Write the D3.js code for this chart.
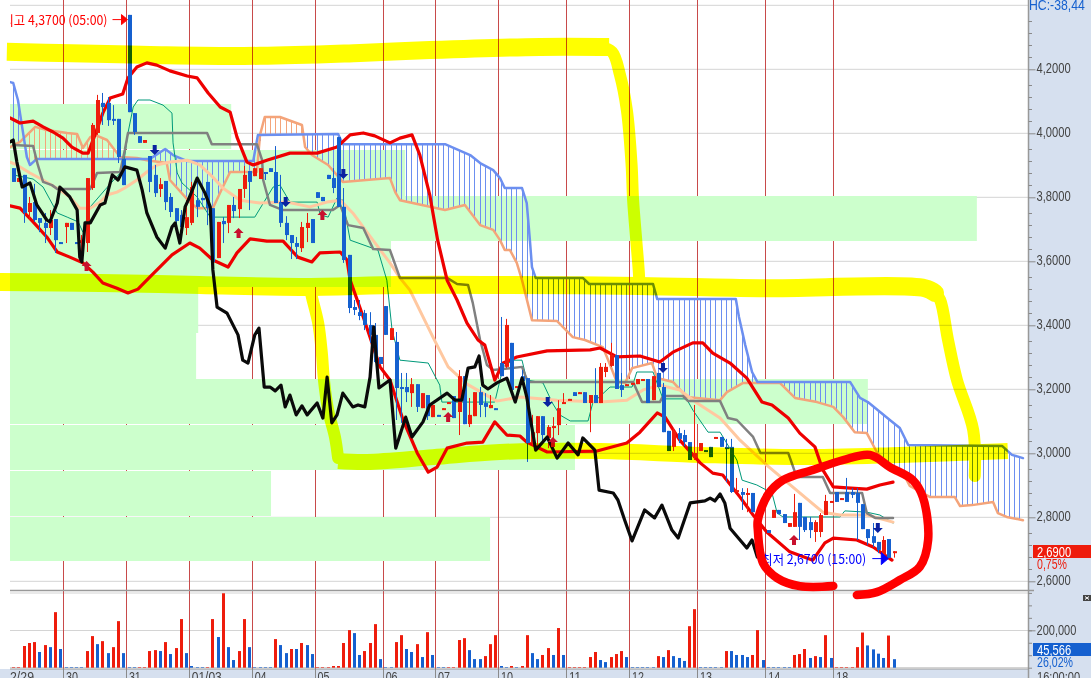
<!DOCTYPE html>
<html><head><meta charset="utf-8">
<script src="https://cdn.jsdelivr.net/npm/d3@7"></script>
<style>html,body{margin:0;padding:0;background:#fff;overflow:hidden}svg{display:block;isolation:isolate}</style>
</head><body><svg id="c" width="1091" height="678"></svg>
<script>
// ---------- data ----------
const sessionSlots=[0,10,22,34,46,58,71,81,93,106,118,131,144,157];
const sessionLabels=["2/29","30","31","01/03","04","05","06","07","10","11","12","13","14","18"];
const priceTicks=[4.4,4.2,4.0,3.8,3.6,3.4,3.2,3.0,2.8,2.6];
const priceLabels=[4.2,4.0,3.8,3.6,3.4,3.2,3.0,2.8,2.6];
const volTicks=[0,66667,133333,200000,266667,333333,400000];
// candles: slot, open, high, low, close
const candles=[[0,3.887,3.887,3.844,3.844],[1,3.844,3.856,3.844,3.856],[2,3.866,3.866,3.716,3.747],[3,3.750,3.797,3.725,3.778],[4,3.781,3.838,3.719,3.725],[5,3.731,3.731,3.687,3.716],[6,3.716,3.747,3.653,3.700],[7,3.700,3.756,3.678,3.725],[8,3.728,3.728,3.622,3.662],[9,3.656,3.656,3.650,3.650],
[10,3.703,3.716,3.653,3.716],[11,3.716,3.716,3.694,3.694],[12,3.656,3.656,3.650,3.650],[13,3.653,3.678,3.606,3.662],[14,3.653,3.856,3.625,3.856],[15,3.825,4.028,3.819,4.022],[16,3.997,4.116,3.991,4.100],[17,4.091,4.122,4.022,4.078],[18,4.091,4.109,4.019,4.037],[19,4.041,4.084,4.022,4.037],[20,4.041,4.041,3.903,3.922],[21,3.916,3.916,3.834,3.834],
[22,4.366,4.366,4.062,4.062],[23,4.059,4.059,3.991,4.000],[24,3.987,3.987,3.966,3.966],[25,3.966,3.975,3.966,3.975],[26,3.925,3.925,3.812,3.844],[27,3.866,3.897,3.797,3.809],[28,3.822,3.856,3.797,3.837],[29,3.847,3.847,3.756,3.781],[30,3.797,3.809,3.734,3.750],[31,3.762,3.762,3.694,3.722],[32,3.741,3.756,3.672,3.703],[33,3.700,3.787,3.678,3.734],
[34,3.716,3.844,3.709,3.828],[35,3.787,3.850,3.734,3.766],[36,3.794,3.794,3.787,3.787],[37,3.844,3.844,3.709,3.762],[38,3.762,3.762,3.559,3.594],[39,3.606,3.719,3.606,3.719],[40,3.722,3.734,3.653,3.712],[41,3.716,3.772,3.684,3.772],[42,3.772,3.797,3.731,3.753],[43,3.759,3.822,3.731,3.822],[44,3.822,3.894,3.794,3.866],[45,3.878,3.878,3.756,3.844],
[46,3.862,3.887,3.862,3.887],[47,3.853,3.887,3.853,3.887],[48,3.875,3.875,3.850,3.869],[49,3.887,3.887,3.875,3.875],[50,3.875,3.956,3.778,3.778],[51,3.781,3.866,3.703,3.716],[52,3.716,3.737,3.662,3.678],[53,3.678,3.678,3.603,3.653],[54,3.653,3.672,3.603,3.641],[55,3.637,3.719,3.625,3.703],[56,3.700,3.747,3.656,3.716],[57,3.728,3.728,3.653,3.653],
[58,3.812,3.812,3.794,3.794],[59,3.797,3.797,3.784,3.784],[60,3.866,3.866,3.853,3.853],[61,3.856,3.887,3.809,3.825],[62,3.984,3.984,3.766,3.766],[63,3.766,3.825,3.591,3.600],[64,3.616,3.616,3.434,3.450],[65,3.453,3.475,3.428,3.444],[66,3.437,3.475,3.412,3.425],[67,3.434,3.444,3.381,3.397],[68,3.397,3.437,3.341,3.366],[69,3.366,3.403,3.278,3.281],[70,3.297,3.297,3.275,3.275],
[71,3.456,3.456,3.366,3.366],[72,3.350,3.387,3.350,3.387],[73,3.344,3.375,3.100,3.200],[74,3.203,3.247,3.091,3.200],[75,3.203,3.247,3.156,3.187],[76,3.184,3.231,3.141,3.212],[77,3.212,3.212,3.125,3.141],[78,3.137,3.184,3.137,3.184],[79,3.178,3.178,3.100,3.112],[80,3.109,3.147,3.109,3.147],
[81,3.116,3.116,3.112,3.112],[82,3.134,3.137,3.134,3.137],[83,3.153,3.156,3.153,3.156],[84,3.175,3.175,3.106,3.106],[85,3.125,3.256,3.053,3.237],[86,3.237,3.237,3.087,3.087],[87,3.087,3.169,3.078,3.116],[88,3.112,3.187,3.112,3.187],[89,3.187,3.203,3.109,3.147],[90,3.153,3.184,3.109,3.141],[91,3.137,3.178,3.137,3.147],[92,3.137,3.137,3.134,3.134],
[93,3.278,3.422,3.237,3.237],[94,3.266,3.416,3.262,3.397],[95,3.341,3.341,3.194,3.194],[96,3.203,3.206,3.203,3.206],[97,3.237,3.256,3.222,3.222],[98,3.231,3.231,2.969,3.028],[99,3.028,3.116,3.022,3.062],[100,3.059,3.112,3.006,3.112],[101,3.112,3.112,3.031,3.053],[102,3.044,3.084,3.012,3.078],[103,3.075,3.109,3.037,3.081],[104,3.084,3.162,3.053,3.137],[105,3.153,3.184,3.153,3.156],
[106,3.163,3.166,3.163,3.166],[107,3.187,3.187,3.175,3.175],[108,3.184,3.187,3.184,3.187],[109,3.187,3.187,3.153,3.153],[110,3.153,3.178,3.062,3.178],[111,3.178,3.262,3.153,3.153],[112,3.153,3.278,3.153,3.266],[113,3.250,3.278,3.234,3.266],[114,3.269,3.341,3.266,3.303],[115,3.303,3.303,3.197,3.197],[116,3.209,3.247,3.172,3.194],[117,3.209,3.212,3.209,3.212],
[118,3.212,3.216,3.212,3.216],[119,3.212,3.228,3.212,3.228],[120,3.225,3.228,3.225,3.228],[121,3.228,3.228,3.153,3.153],[122,3.162,3.237,3.162,3.237],[123,3.247,3.247,3.203,3.203],[124,3.203,3.216,3.062,3.062],[125,3.066,3.066,3.003,3.003],[126,3.016,3.075,3.003,3.066],[127,3.059,3.075,3.028,3.041],[128,3.053,3.069,3.016,3.031],[129,3.031,3.031,2.975,2.975],[130,2.981,3.147,2.975,2.997],
[131,3.003,3.028,3.003,3.028],[132,3.006,3.006,3.003,3.003],[133,3.016,3.016,2.984,2.984],[134,3.044,3.047,3.044,3.047],[135,3.047,3.047,3.016,3.016],[136,3.016,3.041,2.906,3.009],[137,3.016,3.041,2.872,2.875],[138,2.875,2.919,2.875,2.881],[139,2.875,2.887,2.819,2.866],[140,2.866,2.887,2.812,2.872],[141,2.872,2.872,2.812,2.812],[142,2.812,2.812,2.806,2.806],
[144,2.756,2.756,2.747,2.747],[145,2.794,2.819,2.794,2.819],[146,2.819,2.819,2.806,2.806],[147,2.806,2.806,2.778,2.778],[148,2.766,2.778,2.766,2.778],[149,2.766,2.869,2.766,2.812],[150,2.841,2.841,2.725,2.766],[151,2.797,2.797,2.750,2.756],[152,2.781,2.797,2.731,2.756],[153,2.750,2.787,2.719,2.781],[154,2.750,2.809,2.734,2.803],[155,2.803,2.866,2.803,2.847],[156,2.844,2.847,2.844,2.847],
[157,2.875,2.875,2.844,2.844],[158,2.853,2.856,2.853,2.856],[159,2.875,2.919,2.844,2.844],[160,2.875,2.887,2.856,2.866],[161,2.872,2.887,2.725,2.841],[162,2.837,2.837,2.759,2.759],[163,2.759,2.759,2.709,2.731],[164,2.737,2.778,2.703,2.716],[165,2.719,2.719,2.684,2.694],[166,2.678,2.737,2.672,2.725],[167,2.728,2.728,2.669,2.669],[168,2.687,2.690,2.670,2.690]];
// volumes in thousands, one per slot; volumeUp: 1 red, 0 blue
const volumes=[3,3,116,132,137,84,121,110,297,100,3,3,3,3,89,169,126,142,78,110,249,78,3,3,3,3,89,94,89,137,73,105,260,78,9,3,3,3,260,164,398,110,41,89,260,110,3,3,3,3,153,121,78,100,100,132,121,73,3,3,3,9,9,132,201,185,68,89,132,233,46,3,3,137,174,100,84,126,57,190,68,3,3,3,3,148,158,94,46,46,62,126,174,9,3,9,3,9,174,78,46,68,105,68,212,68,3,3,3,3,57,84,41,30,57,73,89,57,3,3,3,3,3,62,57,94,62,52,36,222,313,3,3,3,3,3,89,89,68,68,57,68,201,41,3,3,3,3,3,68,73,100,52,62,57,174,52,3,3,3,3,110,188,119,98,75,52,172,45.566];
const volumeUp=[1,1,1,1,1,0,1,0,1,0, 0,0,0,0,1,1,0,1,0,1,1,0, 0,0,1,1,1,1,0,1,0,1,1,0, 0,0,0,1,1,0,1,0,0,1,1,0, 0,0,0,0,1,0,0,1,0,1,0,0, 1,1,1,1,1,1,1,0,0,1,1,1,0, 0,0,1,1,0,0,1,0,1,0, 0,0,1,1,1,1,0,0,0,1,1,1, 0,0,1,0,1,1,0,0,1,1,0,1,0, 1,1,1,1,1,1,0,0,1,1,1,0, 0,0,0,0,0,1,0,1,0,0,0,1,1, 0,0,0,0,0,1,0,0,0,0,1,1,0, 0,0,0,0,0,1,1,1,0,1,0,1,0, 1,1,1,1,1,1,0,0,0,0,1,0];
// line series: [slot, price]
const bollUpper=[[-0.1,4.044],[1.8,4.028],[4.3,4.034],[6.2,4.016],[8.1,4.000],[10,3.981],[11.7,3.953],[13.8,3.934],[14.8,3.934],[16.1,3.991],[17.6,4.059],[19,4.106],[21.4,4.119],[22.4,4.169],[24.1,4.203],[26,4.216],[27.9,4.209],[30.4,4.191],[33.7,4.175],[35.6,4.169],[37.7,4.122],[40,4.078],[41.9,4.062],[43.2,3.984],[45.1,3.906],[46.3,3.897],[48.9,3.912],[53.3,3.934],[58.5,3.934],[62.3,3.953],[64.8,3.991],[67.3,3.997],[69.5,3.988],[72.4,3.966],[74.3,3.981],[76.6,3.991],[78.1,3.928],[80,3.803],[81.5,3.662],[83.3,3.537],[85.2,3.475],[87.1,3.403],[89.2,3.350],[90.5,3.334],[92.4,3.225],[94,3.278],[96.6,3.297],[102.4,3.316],[110.6,3.319],[112.5,3.325],[115.7,3.297],[120.1,3.300],[123.9,3.281],[126.4,3.312],[130.2,3.341],[132.1,3.341],[134,3.309],[137.3,3.278],[140.5,3.231],[143.4,3.156],[145.3,3.147],[148.4,3.106],[150.6,3.059],[153.5,3.016],[155,2.944],[157,2.891],[159.6,2.888],[163.4,2.884],[165.9,2.897],[168.4,2.906]];
const bollLower=[[-0.1,3.769],[1.8,3.762],[4.3,3.719],[6.9,3.672],[8.9,3.625],[11.3,3.609],[13.8,3.591],[15.7,3.562],[17.6,3.528],[20.3,3.512],[22.4,3.497],[24.3,3.509],[26.6,3.547],[30.8,3.616],[34.2,3.653],[36.1,3.637],[38.6,3.600],[41.5,3.578],[43.2,3.622],[45.7,3.666],[48.9,3.659],[52,3.659],[54.8,3.609],[57.5,3.594],[59,3.622],[62.9,3.625],[64.2,3.600],[64.8,3.537],[67.3,3.422],[70.5,3.266],[72.4,3.225],[74.9,3.100],[77.6,2.997],[79.7,2.937],[81.4,2.953],[83.3,3.012],[87.1,3.028],[90.1,3.031],[92.4,3.094],[94.7,3.053],[97.2,3.050],[98.5,3.031],[102.4,3.000],[111.9,3.003],[117.6,3.028],[120.1,3.062],[123.4,3.122],[124.9,3.109],[127.7,3.037],[131.6,2.966],[134,2.934],[135.9,2.928],[139.2,2.859],[141.7,2.803],[144.3,2.750],[148.7,2.688],[153.1,2.662],[155.4,2.716],[157,2.731],[161.5,2.725],[164.6,2.703],[168.2,2.662]];
const lagging=[[-0.1,3.969],[0.5,3.975],[1.2,3.906],[2.2,3.828],[3.7,3.841],[5,3.772],[6.9,3.725],[7.5,3.719],[8.9,3.778],[9.4,3.828],[11.3,3.797],[12.7,3.756],[13.2,3.609],[13.6,3.594],[14.2,3.716],[15.2,3.716],[17.1,3.772],[18,3.778],[19.4,3.866],[20.5,3.850],[21.8,3.891],[24.1,3.881],[25.1,3.819],[26,3.747],[27.9,3.672],[29.5,3.637],[30.8,3.703],[31.4,3.716],[32.3,3.653],[33.3,3.766],[33.9,3.787],[35.6,3.856],[37.1,3.809],[38.1,3.766],[38.6,3.569],[39.4,3.453],[41.3,3.434],[43.4,3.366],[44.3,3.287],[45.3,3.278],[46.6,3.366],[47.4,3.387],[48.4,3.203],[49.5,3.203],[50.5,3.191],[51.6,3.209],[52.4,3.141],[53.3,3.178],[54.5,3.116],[55.6,3.144],[56.6,3.116],[58.5,3.153],[59.6,3.106],[60.4,3.234],[61.3,3.091],[62.3,3.116],[63.4,3.184],[65.3,3.141],[66.3,3.147],[67.6,3.141],[68.6,3.234],[69.3,3.391],[70.3,3.200],[72.4,3.225],[73.5,3.012],[75.4,3.109],[76.6,3.047],[78.7,3.094],[80,3.147],[83.3,3.184],[84.8,3.162],[86.1,3.162],[87.3,3.262],[88.6,3.266],[89.4,3.300],[90.1,3.209],[91.1,3.197],[92.8,3.216],[94.7,3.231],[96.3,3.156],[97.6,3.231],[98.5,3.172],[100.2,3.006],[102.4,3.047],[104.3,2.981],[106.4,3.028],[108.3,2.991],[109.2,3.044],[111.5,3.006],[112.3,2.881],[115,2.872],[115.9,2.850],[117.2,2.787],[118.6,2.722],[121,2.819],[122.9,2.794],[124.3,2.834],[126.2,2.756],[127.4,2.731],[129.7,2.841],[132.5,2.847],[133.5,2.856],[134.4,2.847],[135.4,2.869],[136.3,2.841],[137.3,2.762],[140.5,2.700],[141.5,2.725],[142.5,2.672],[143.4,2.684]];
const movingAvg=[[-0.1,3.906],[1.2,3.897],[3.7,3.872],[6.2,3.850],[9.4,3.819],[11.3,3.797],[13.2,3.762],[15.2,3.762],[17.1,3.781],[18.4,3.803],[20.3,3.812],[21.8,3.825],[24.1,3.850],[26,3.875],[27.9,3.897],[30.4,3.906],[33.7,3.912],[36.1,3.897],[38.6,3.859],[40.5,3.825],[43.8,3.787],[47.6,3.778],[52.7,3.781],[57.1,3.766],[60.4,3.781],[62.9,3.787],[65.3,3.747],[68,3.687],[72.4,3.591],[74.3,3.544],[76.2,3.506],[80.6,3.359],[83.5,3.266],[87.1,3.212],[92.8,3.159],[97.2,3.172],[104.3,3.162],[112.5,3.156],[117.6,3.162],[120.7,3.194],[123.9,3.209],[127.7,3.194],[131,3.153],[135.4,3.106],[139.2,3.037],[144.3,2.959],[150.6,2.872],[155,2.812],[158.3,2.803],[163.4,2.803],[168.4,2.781]];
const kijun=[[0.5,3.959],[4.3,3.956],[5.2,3.897],[6.2,3.844],[7.9,3.834],[8.9,3.822],[15.2,3.822],[16.5,3.872],[20.9,3.875],[21.8,3.944],[22.4,3.997],[37.5,3.997],[38.4,3.962],[47,3.962],[48,3.912],[48.2,3.850],[49.5,3.772],[52,3.756],[61.5,3.756],[62.9,3.772],[64.4,3.709],[67.3,3.700],[69.2,3.634],[72.4,3.631],[74.3,3.544],[83.3,3.544],[85.2,3.525],[87.3,3.522],[88.2,3.466],[89.6,3.350],[90.9,3.272],[92.1,3.256],[97.6,3.266],[98.7,3.219],[118.8,3.219],[120.5,3.156],[123.9,3.156],[124.5,3.175],[128.3,3.175],[129.3,3.159],[135.4,3.159],[136.9,3.106],[138.6,3.100],[141.7,3.047],[143.1,2.997],[148.4,2.997],[150,2.922],[155,2.922],[156.4,2.872],[162.5,2.872],[163.4,2.809],[165,2.794],[168.4,2.794]];
const tenkan=[[0.5,3.866],[4.3,3.853],[6.2,3.828],[8.9,3.747],[10.8,3.734],[12.9,3.719],[13.8,3.687],[15.2,3.766],[18,3.819],[21.4,3.881],[22.4,3.997],[23.4,4.078],[24.3,4.100],[26.6,4.100],[29.1,4.084],[30.8,4.059],[31,3.966],[31.8,3.872],[32.7,3.841],[35.6,3.797],[38.1,3.734],[46.6,3.734],[50.1,3.828],[51.4,3.834],[53.3,3.781],[58.5,3.781],[59.1,3.741],[60.6,3.734],[62.3,3.794],[63.4,3.787],[64.8,3.662],[70.1,3.631],[71.8,3.537],[72.8,3.381],[74.3,3.287],[79.7,3.278],[81.9,3.209],[82.3,3.156],[92.4,3.156],[94,3.266],[95.9,3.287],[97.6,3.287],[98.5,3.225],[101.6,3.216],[103.4,3.153],[104.8,3.116],[106.8,3.097],[110.2,3.097],[111.1,3.153],[114.4,3.203],[118.6,3.203],[119.5,3.250],[122.6,3.250],[124.5,3.166],[129,3.166],[130.2,3.131],[133.1,3.062],[135.4,3.062],[138.6,2.975],[139.6,2.912],[142.4,2.897],[145.3,2.872],[146.3,2.809],[147.4,2.797],[158.3,2.797],[159.2,2.816],[163.4,2.812],[165.9,2.803],[168.4,2.778]];
const spanA=[[-0.1,4.156],[0.5,4.153],[1.4,4.100],[2.2,4.016],[3.1,3.922],[3.7,3.897],[5,3.916],[26.6,3.916],[29.5,3.947],[31,3.928],[33.7,3.909],[46.3,3.909],[47.2,3.991],[62.5,3.994],[63.4,3.962],[82.9,3.962],[87.7,3.928],[89.6,3.903],[92.1,3.881],[93.4,3.856],[94.3,3.825],[97.6,3.825],[98.5,3.778],[99.1,3.662],[99.5,3.578],[100.2,3.544],[109.2,3.544],[110.4,3.525],[122.6,3.525],[123.4,3.478],[138.4,3.478],[139,3.422],[140.2,3.334],[141.5,3.250],[142.5,3.219],[160.2,3.219],[162.1,3.169],[163.6,3.156],[167.8,3.100],[169.7,3.075],[171.3,3.022],[189.2,3.019],[191.1,2.991],[193.2,2.981]];
const spanB=[[-0.1,3.953],[1.8,3.969],[4.7,4.016],[6.9,4.006],[10.8,3.997],[12.7,3.994],[13.8,3.950],[15.2,3.984],[16.1,3.991],[18.4,3.975],[20.9,3.922],[24.1,3.919],[26,3.912],[29.8,3.903],[30.4,3.850],[34.2,3.781],[35.6,3.762],[38.6,3.762],[40.5,3.828],[41.9,3.875],[47,3.875],[47.6,3.991],[48.5,4.047],[51.4,4.047],[55.6,4.022],[56.2,3.953],[57.5,3.928],[60.6,3.897],[63.4,3.844],[72.4,3.856],[73.4,3.812],[74.3,3.787],[82.9,3.756],[86.7,3.772],[89.6,3.709],[92.1,3.694],[93.4,3.662],[94.3,3.631],[95.3,3.631],[96.6,3.591],[97.6,3.537],[99.5,3.412],[104.3,3.409],[107.3,3.359],[109.6,3.350],[113,3.328],[113.8,3.297],[115.7,3.219],[117.3,3.216],[118.6,3.262],[122.4,3.278],[123.4,3.231],[126.4,3.219],[129,3.172],[135.4,3.162],[136.7,3.187],[139.8,3.216],[146.8,3.216],[149.7,3.169],[153.9,3.156],[157,3.141],[158.9,3.109],[161.1,3.062],[163.4,3.059],[165.3,3.000],[168.2,2.944],[170.7,2.922],[171.6,2.894],[175.5,2.859],[180.2,2.859],[181.2,2.831],[183.5,2.834],[187.5,2.844],[188.4,2.809],[190.1,2.797],[193.2,2.787]];
// signal arrows: slot, tip price
const buySignals=[[14,3.597],[43,3.700],[59,3.756],[83,3.125],[103,3.047],[149,2.741]];
const sellSignals=[[27,3.928],[52,3.766],[63,3.853],[102,3.141],[124,3.247],[165,2.747]];
// pasted green bands: top price, bottom price, end slot
const greenTop=[4.0875,3.944,3.800,3.659,3.516,3.372,3.228,3.084,2.941,2.797];
const greenBottom=[3.950,3.803,3.6625,3.519,3.375,3.231,3.091,2.947,2.803,2.662];
const greenEnd=[42.1,75.3,184.4,72.6,35.8,35.4,163.6,107.7,49.7,91.5];
// hand-drawn highlighter strokes: [slot, price]
const yellowTop=[[1,4.250],[9.4,4.247],[26.6,4.241],[47.6,4.238],[66.7,4.247],[80,4.256],[101,4.266],[112.5,4.266]];
const yellowDrop=[[112.5,4.266],[114.8,4.250],[116.3,4.178],[117.6,4.069],[118.5,3.900],[118.8,3.787],[119.4,3.662],[119.9,3.560],[120,3.520]];
const yellowMid=[[-2.2,3.531],[17.1,3.528],[36.1,3.522],[55.2,3.516],[74.3,3.522],[93.4,3.522],[120.1,3.519],[143,3.512],[174.5,3.512],[176.4,3.497]];
const yellowRight=[[176.4,3.497],[177.4,3.475],[178.9,3.350],[180.6,3.225],[183.7,3.069],[184,2.925]];
const yellowBranch=[[57.2,3.506],[57.5,3.484],[58.7,3.403],[59.4,3.309],[59.8,3.225],[60.6,3.131],[61.9,3.047],[62.5,2.981]];
const yellowLow=[[62.5,2.972],[68,2.969],[80.6,2.984],[93.4,3.000],[112.5,3.003],[131.6,2.991],[150.6,2.984],[169.7,2.991],[190.3,3.003]];
const redCircle=[[157,2.581],[150.6,2.581],[146.3,2.606],[143.6,2.653],[142.6,2.756],[142.6,2.787],[144.5,2.866],[147.4,2.912],[153.1,2.944],[158.9,2.975],[164,2.991],[167.8,2.953],[172.2,2.912],[174.1,2.859],[175.1,2.725],[173.5,2.641],[169.7,2.600],[165.3,2.562],[161.5,2.553]];
const highLabel="최고 4,3700 (05:00)", lowLabel="최저 2,6700 (15:00)";
const highPoint=[22,4.37], lowPoint=[167,2.67];

// ---------- setup ----------
const FONT="'Liberation Sans',sans-serif";
const axisX=1028.5, panelBottom=590.5, volTop=593, stripTop=669;
const x=d3.scaleLinear().domain([0,169]).range([10.6,10.6+169*5.24]);
const y=d3.scaleLinear().domain([4.2,2.6]).range([68,580]);
const yv=d3.scaleLinear().domain([0,200000]).range([667.7,630.3]);
const RED="#ee1c0c",BLUE="#1560cf",BG="#d6e0ef";
const svg=d3.select("#c").style("font-family",FONT);
svg.append("rect").attr("width",1091).attr("height",678).attr("fill","#fff");
const defs=svg.append("defs");
defs.append("clipPath").attr("id","plot").append("rect").attr("x",10).attr("y",0).attr("width",axisX-10).attr("height",panelBottom);
const line=d3.line().x(d=>x(d[0])).y(d=>y(d[1]));
const smooth=d3.line().x(d=>x(d[0])).y(d=>y(d[1])).curve(d3.curveCatmullRom.alpha(0.5));
const snap=v=>Math.round(v)+0.5;
// squeeze text to the narrow bitmap-like width of the original
const fit=(sel,per)=>sel.each(function(){const t=d3.select(this);
  t.attr("textLength",t.text().length*per).attr("lengthAdjust","spacingAndGlyphs");});

// grid
const grid=svg.append("g").attr("transform","translate(0,1.3)");
grid.selectAll("line").data(priceTicks).join("line").attr("x1",10).attr("x2",axisX)
  .attr("y1",d=>Math.round(y(d))).attr("y2",d=>Math.round(y(d))).attr("stroke","#d4d4d4");
svg.selectAll("line.sep").data(sessionSlots.slice(1)).join("line").attr("class","sep")
  .attr("x1",d=>snap(x(d))).attr("x2",d=>snap(x(d))).attr("y1",0).attr("y2",panelBottom).attr("stroke","#c84a4a");

// green bands
svg.selectAll("rect.green").data(greenTop).join("rect").attr("class","green").attr("fill","#ccffcc")
  .attr("x",x(0)-0.6).attr("y",d=>Math.round(y(d)))
  .attr("width",(d,i)=>x(greenEnd[i])-x(0)+0.6)
  .attr("height",(d,i)=>Math.round(y(greenBottom[i]))-Math.round(y(d))+1);

const plot=svg.append("g").attr("clip-path","url(#plot)");
// cloud hatching
const aAt=d3.scaleLinear().domain(spanA.map(d=>d[0])).range(spanA.map(d=>d[1]));
const bAt=d3.scaleLinear().domain(spanB.map(d=>d[0])).range(spanB.map(d=>d[1]));
plot.append("g").selectAll("line").data(d3.range(0,193)).join("line")
  .attr("x1",d=>snap(x(d+.5))).attr("x2",d=>snap(x(d+.5)))
  .attr("y1",d=>y(aAt(d+.5))).attr("y2",d=>y(bAt(d+.5)))
  .attr("stroke",d=>aAt(d+.5)>=bAt(d+.5)?"#6c8ff0":"#f4a47a");
const drawLine=(data,color,w)=>plot.append("path").attr("d",line(data)).attr("fill","none")
  .attr("stroke",color).attr("stroke-width",w).attr("stroke-linejoin","round").attr("stroke-linecap","round");
drawLine(spanB,"#f4a47a",2.5);
drawLine(spanA,"#6c8ff0",2.5);
drawLine(tenkan,"#00997a",1);
drawLine(movingAvg,"#ffc8a0",3);
drawLine(kijun,"#808080",2.5);
drawLine(bollUpper,"#ee0000",3.2);
drawLine(bollLower,"#ee0000",3.2);

// candles
const cg=plot.append("g");
const cx=d=>Math.round(x(d[0]+.5));
const cc=d=>d[4]>=d[1]?RED:BLUE;
cg.selectAll("rect.w").data(candles).join("rect").attr("class","w").attr("x",cx).attr("width",1)
  .attr("y",d=>y(d[2])).attr("height",d=>Math.max(1,y(d[3])-y(d[2]))).attr("fill",cc);
cg.selectAll("rect.b").data(candles).join("rect").attr("class","b").attr("x",d=>cx(d)-1).attr("width",4)
  .attr("y",d=>y(Math.max(d[1],d[4]))).attr("height",d=>Math.max(2,Math.abs(y(d[1])-y(d[4])))).attr("fill",cc);

drawLine(lagging,"#0a0a0a",3.2);

// signal arrows
const arrow=(dir)=>`M0,0 L${-5},${dir*5} L${-2},${dir*5} L${-2},${dir*10} L2,${dir*10} L2,${dir*5} L5,${dir*5}Z`;
plot.append("g").selectAll("path").data(buySignals).join("path").attr("fill","#c8102e")
  .attr("d",arrow(1)).attr("transform",d=>`translate(${x(d[0]+.5)},${y(d[1])})`);
plot.append("g").selectAll("path").data(sellSignals).join("path").attr("fill","#0a22a0")
  .attr("d",arrow(-1)).attr("transform",d=>`translate(${x(d[0]+.5)},${y(d[1])})`);

// high / low labels
const ann=plot.append("g").style("font-family","'Noto Sans CJK KR',sans-serif").style("font-size","13px");
const hx=x(highPoint[0]+.5), hy=y(highPoint[1])+6;
ann.append("text").attr("x",hx-126).attr("y",hy+5).attr("fill","#ff0000")
  .attr("textLength",105).attr("lengthAdjust","spacingAndGlyphs").text(highLabel);
ann.append("path").attr("d",`M${hx-16},${hy}H${hx-6}M${hx-7},${hy-5}L${hx-1},${hy}L${hx-7},${hy+5}Z`).attr("stroke","#ff0000").attr("fill","#ff0000");
const lx=x(lowPoint[0]+.5), ly=y(lowPoint[1])+1;
ann.append("text").attr("x",lx-127).attr("y",ly+5).attr("fill","#0000ff")
  .attr("textLength",105).attr("lengthAdjust","spacingAndGlyphs").text(lowLabel);
ann.append("path").attr("d",`M${lx-16},${ly}H${lx-6}M${lx-7},${ly-6}L${lx},${ly}L${lx-7},${ly+6}Z`).attr("stroke","#0000ff").attr("fill","#0000ff");

// ---------- volume panel ----------
svg.append("line").attr("x1",10).attr("x2",axisX).attr("y1",volTop).attr("y2",volTop).attr("stroke","#d4d4d4");
svg.append("line").attr("x1",10).attr("x2",axisX).attr("y1",630.5).attr("y2",630.5).attr("stroke","#d4d4d4");
svg.append("line").attr("x1",10).attr("x2",axisX).attr("y1",667.5).attr("y2",667.5).attr("stroke","#d4d4d4");
svg.selectAll("line.vsep").data(sessionSlots.slice(1)).join("line").attr("class","vsep")
  .attr("x1",d=>snap(x(d))).attr("x2",d=>snap(x(d))).attr("y1",panelBottom).attr("y2",stripTop).attr("stroke","#c84a4a");
svg.append("g").selectAll("rect").data(volumes).join("rect")
  .attr("x",(d,i)=>Math.round(x(i+.5))-1).attr("width",3)
  .attr("y",d=>yv(d*1000)).attr("height",d=>yv(0)-yv(d*1000))
  .attr("fill",(d,i)=>volumeUp[i]?RED:BLUE);

// panel separator and right axis background
svg.append("rect").attr("x",axisX).attr("y",0).attr("width",1091-axisX).attr("height",678).attr("fill",BG);
svg.append("rect").attr("x",0).attr("y",stripTop).attr("width",1091).attr("height",678-stripTop).attr("fill",BG);
svg.append("line").attr("x1",10).attr("x2",1034).attr("y1",panelBottom).attr("y2",panelBottom).attr("stroke","#999").attr("stroke-width",1.5);
svg.append("line").attr("x1",10).attr("x2",axisX).attr("y1",stripTop).attr("y2",stripTop).attr("stroke","#999");
svg.append("line").attr("x1",axisX).attr("x2",axisX).attr("y1",0).attr("y2",678).attr("stroke","#999").attr("stroke-width",1.5);

// axes
const styleAxis=g=>{g.select(".domain").remove();
  g.selectAll("line").attr("stroke","#8a8a8a");
  g.selectAll("text").attr("fill","#444").style("font-size","14.5px").style("font-family",FONT);
  g.selectAll("text").call(fit,5.7);};
const fmtP=d=>d3.format(".4f")(d).replace(".",",");
svg.append("g").attr("transform",`translate(${axisX},0)`)
  .call(d3.axisRight(y).tickValues(priceLabels).tickSize(7).tickPadding(1).tickFormat(fmtP)).call(styleAxis)
  .selectAll("line").attr("transform","translate(0,1.3)");
const minorOffsets=[0.05,0.0875,0.125,0.1625];
const minors=priceTicks.flatMap(t=>minorOffsets.map(o=>t-o)).filter(v=>y(v)<590);
svg.append("g").selectAll("line").data(minors).join("line").attr("x1",axisX).attr("x2",axisX+3.5)
  .attr("y1",d=>Math.round(y(d))+1.5).attr("y2",d=>Math.round(y(d))+1.5).attr("stroke","#8a8a8a");
svg.append("g").attr("transform",`translate(${axisX},0)`)
  .call(d3.axisRight(yv).tickValues(volTicks).tickSize(3.5).tickFormat(()=>"")).select(".domain").remove();
svg.selectAll("g.tick line").attr("stroke","#8a8a8a");
svg.append("g").attr("transform",`translate(${axisX},0)`)
  .call(d3.axisRight(yv).tickValues([200000]).tickSize(7).tickPadding(1).tickFormat(d3.format(","))).call(styleAxis);

// date strip
const strip=svg.append("g");
strip.selectAll("line").data(sessionSlots.slice(1)).join("line")
  .attr("x1",d=>snap(x(d))).attr("x2",d=>snap(x(d))).attr("y1",stripTop).attr("y2",678).attr("stroke","#8a8a8a");
strip.selectAll("text").data(sessionLabels).join("text").attr("x",(d,i)=>i?x(sessionSlots[i])+3:10).attr("y",682)
  .attr("fill","#444").style("font-size","14.5px").text(d=>d).call(fit,6);
strip.append("text").attr("x",1037).attr("y",682).attr("fill","#444").style("font-size","14.5px").text("16:00:00").call(fit,5.4);

// value boxes
const rtxt=(px,py,t,c,per)=>svg.append("text").attr("x",px).attr("y",py).attr("fill",c).style("font-size","14.5px").text(t).call(fit,per);
rtxt(1029,10,"HC:-38,44",BLUE,6.2);
svg.append("rect").attr("x",1033).attr("y",545).attr("width",58).attr("height",13).attr("fill",RED);
rtxt(1037,556.5,"2,6900","#fff",5.7);
rtxt(1037,568.5,"0,75%",RED,6);
svg.append("rect").attr("x",1033).attr("y",643).attr("width",58).attr("height",13).attr("fill",BLUE);
rtxt(1037,654.5,"45,566","#fff",5.7);
rtxt(1037,667,"26,02%",BLUE,6);
svg.append("rect").attr("x",1083).attr("y",595).attr("width",8).attr("height",6).attr("fill","#444");
svg.append("path").attr("d","M1085,596.5l4,3M1089,596.5l-4,3").attr("stroke","#fff");

// ---------- hand-drawn strokes ----------
const pen=(data,color,w,blend,cap)=>{const p=svg.append("path").attr("d",smooth(data)).attr("fill","none")
  .attr("stroke",color).attr("stroke-width",w).attr("stroke-linecap",cap||"round").attr("stroke-linejoin","round");
  if(blend)p.style("mix-blend-mode","multiply");};
pen(yellowTop,"#ffff00",18,true,"square");
pen(yellowDrop,"#ffff00",12,true);
pen(yellowMid,"#ffff00",18,true);
pen(yellowRight,"#ffff00",12,true);
pen(yellowBranch,"#ffff00",12,true);
pen(yellowLow,"#ffff00",16,true,"butt");
pen(redCircle,"#ff0000",8.5,false);
</script></body></html>
